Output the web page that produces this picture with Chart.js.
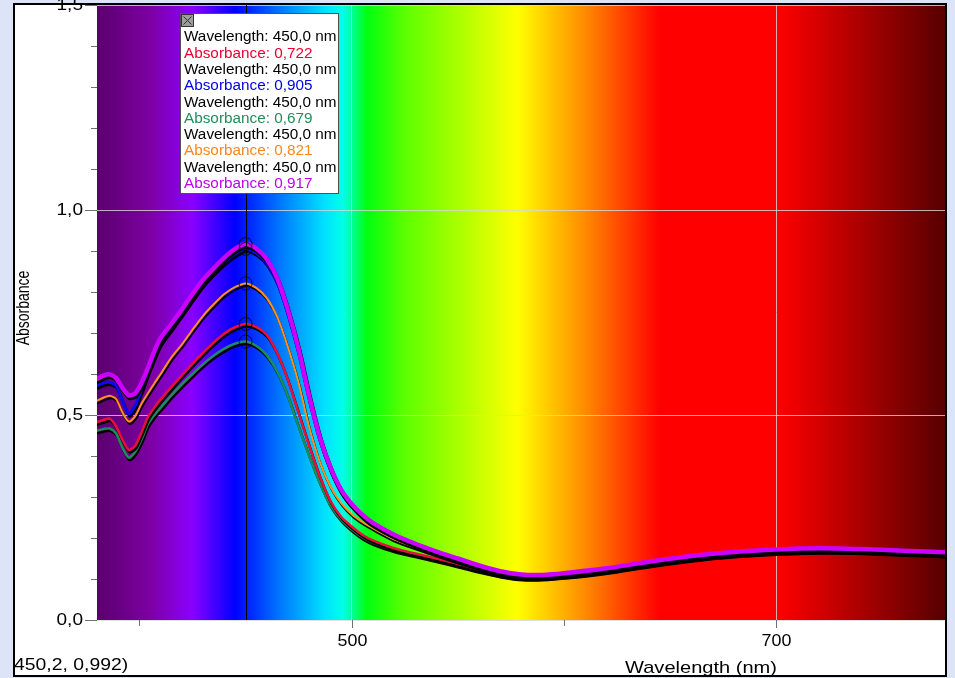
<!DOCTYPE html>
<html>
<head>
<meta charset="utf-8">
<script src="https://cdn.jsdelivr.net/npm/chart.js@4/dist/chart.umd.min.js"></script>
<style>
  html, body { margin: 0; padding: 0; background: #dee4f7; }
  canvas { display: block; }
</style>
</head>
<body>
<canvas id="c" width="955" height="678"></canvas>
<script>
// ---------------- DATA ----------------
const wavelengths = [380, 383, 386, 389, 392, 395, 398, 401, 404, 407, 410, 415, 420, 425, 430, 435, 440, 445, 450, 455, 460, 465, 470, 475, 480, 485, 490, 495, 500, 505, 510, 520, 530, 540, 550, 560, 570, 580, 590, 600, 620, 640, 660, 680, 700, 720, 740, 760, 780];

const absRed = [0.483, 0.488, 0.491, 0.472, 0.440, 0.415, 0.425, 0.458, 0.495, 0.518, 0.538, 0.568, 0.597, 0.625, 0.652, 0.677, 0.699, 0.714, 0.722, 0.715, 0.695, 0.650, 0.585, 0.505, 0.425, 0.350, 0.290, 0.252, 0.228, 0.208, 0.194, 0.175, 0.162, 0.150, 0.137, 0.123, 0.111, 0.104, 0.104, 0.108, 0.120, 0.136, 0.150, 0.160, 0.166, 0.169, 0.168, 0.164, 0.160];
const absBlue = [0.572, 0.578, 0.580, 0.571, 0.535, 0.503, 0.523, 0.562, 0.605, 0.643, 0.676, 0.712, 0.748, 0.785, 0.820, 0.848, 0.873, 0.893, 0.905, 0.895, 0.870, 0.822, 0.745, 0.650, 0.537, 0.438, 0.366, 0.313, 0.279, 0.253, 0.233, 0.205, 0.183, 0.165, 0.148, 0.131, 0.117, 0.109, 0.108, 0.112, 0.124, 0.140, 0.154, 0.164, 0.170, 0.173, 0.171, 0.167, 0.163];
const absGreen = [0.462, 0.466, 0.467, 0.455, 0.420, 0.396, 0.410, 0.440, 0.478, 0.500, 0.518, 0.548, 0.575, 0.600, 0.624, 0.645, 0.662, 0.674, 0.679, 0.669, 0.646, 0.605, 0.545, 0.472, 0.400, 0.335, 0.280, 0.245, 0.221, 0.202, 0.189, 0.171, 0.159, 0.147, 0.134, 0.121, 0.110, 0.103, 0.103, 0.107, 0.119, 0.135, 0.149, 0.159, 0.165, 0.168, 0.167, 0.163, 0.159];
const absOrange = [0.535, 0.542, 0.547, 0.539, 0.506, 0.484, 0.497, 0.528, 0.553, 0.577, 0.600, 0.640, 0.672, 0.708, 0.742, 0.770, 0.795, 0.812, 0.821, 0.810, 0.785, 0.738, 0.665, 0.578, 0.470, 0.385, 0.325, 0.285, 0.258, 0.239, 0.224, 0.197, 0.178, 0.160, 0.143, 0.127, 0.114, 0.106, 0.106, 0.110, 0.122, 0.138, 0.152, 0.162, 0.168, 0.171, 0.170, 0.166, 0.162];
const absMagenta = [0.588, 0.596, 0.599, 0.590, 0.566, 0.548, 0.553, 0.578, 0.615, 0.655, 0.688, 0.722, 0.757, 0.795, 0.830, 0.858, 0.884, 0.905, 0.917, 0.906, 0.880, 0.832, 0.755, 0.660, 0.545, 0.445, 0.372, 0.318, 0.283, 0.257, 0.237, 0.208, 0.186, 0.167, 0.150, 0.133, 0.119, 0.111, 0.110, 0.114, 0.126, 0.142, 0.156, 0.166, 0.172, 0.175, 0.173, 0.169, 0.165];

const cursorWavelength = 450;
const xTickValues = [400, 500, 600, 700];
const xLabeledTicks = [500, 700];
const yTickValues = [0, 0.1, 0.2, 0.3, 0.4, 0.5, 0.6, 0.7, 0.8, 0.9, 1.0, 1.1, 1.2, 1.3, 1.4, 1.5];
const yLabeledTicks = [0, 0.5, 1.0, 1.5];
const xTitle = 'Wavelength (nm)';
const yTitle = 'Absorbance';
const statusText = '450,2, 0,992)';

const spectrumNm = [380, 405, 425, 445, 465, 487, 496, 507, 525, 578, 610, 645, 700, 780];
const spectrumColors = ['#5a006c', '#7d00a2', '#8a00ff', '#0000ff', '#0070ff', '#00e0ff', '#00ffe8', '#00ff10', '#5cff00', '#ffff00', '#ff8a00', '#ff0000', '#ff0000', '#560000'];

const seriesList = [
  { values: absRed, line: '#e8103a', text: '#e8002f', width: 2.5, order: 3 },
  { values: absBlue, line: '#0a0af0', text: '#0000e6', width: 3, order: 1 },
  { values: absGreen, line: '#1c8c5c', text: '#1f8f5a', width: 2.5, order: 4 },
  { values: absOrange, line: '#ff9020', text: '#f7871e', width: 2, order: 2 },
  { values: absMagenta, line: '#cc00ff', text: '#c000f0', width: 4.5, order: 0 }
];

// ---------------- HELPERS ----------------
const FONT = '"Liberation Sans", Arial, sans-serif';
function stretchText(ctx, text, x, y, align, sx, size, color) {
  ctx.save();
  ctx.translate(x, y);
  ctx.scale(sx, 1);
  ctx.font = size + 'px ' + FONT;
  ctx.textAlign = align;
  ctx.textBaseline = 'middle';
  ctx.fillStyle = color;
  ctx.fillText(text, 0, 0);
  ctx.restore();
}
const near = (a, list) => list.some(v => Math.abs(v - a) < 1e-6);
const fmt = (v, d) => v.toFixed(d).replace('.', ',');

// ---------------- PLUGINS ----------------
const backgroundPlugin = {
  id: 'bg',
  beforeDraw(chart) {
    const ctx = chart.ctx;
    const { left, right, top, bottom } = chart.chartArea;
    const xs = chart.scales.x;
    ctx.save();
    ctx.fillStyle = '#dee4f7';
    ctx.fillRect(0, 0, chart.width, chart.height);
    ctx.fillStyle = '#ffffff';
    ctx.fillRect(14, 3, 933, 674);
    const g = ctx.createLinearGradient(left, 0, right, 0);
    spectrumNm.forEach((nm, i) => {
      const p = (xs.getPixelForValue(nm) - left) / (right - left);
      g.addColorStop(Math.min(1, Math.max(0, p)), spectrumColors[i]);
    });
    ctx.fillStyle = g;
    ctx.fillRect(left, top, right - left, bottom - top);
    ctx.restore();
  }
};

const shadowPlugin = {
  id: 'shadow',
  beforeDatasetDraw(chart) {
    const ctx = chart.ctx;
    ctx.save();
    ctx.shadowColor = 'rgba(0,0,0,0.95)';
    ctx.shadowOffsetX = 1;
    ctx.shadowOffsetY = 2.5;
    ctx.shadowBlur = 0;
  },
  afterDatasetDraw(chart) {
    chart.ctx.restore();
  }
};

const overlayPlugin = {
  id: 'overlay',
  afterDraw(chart) {
    const ctx = chart.ctx;
    const { left, right, top, bottom } = chart.chartArea;
    const xs = chart.scales.x, ys = chart.scales.y;
    ctx.save();

    // cursor line
    const cx = Math.round(xs.getPixelForValue(cursorWavelength)) + 0.5;
    ctx.strokeStyle = '#000';
    ctx.lineWidth = 1;
    ctx.beginPath();
    ctx.moveTo(cx, top);
    ctx.lineTo(cx, bottom);
    ctx.stroke();

    // circles at cursor
    const idx = wavelengths.indexOf(cursorWavelength);
    chart.data.datasets.forEach((ds, i) => {
      const pt = chart.getDatasetMeta(i).data[idx];
      ctx.beginPath();
      ctx.arc(pt.x, pt.y, 6.5, 0, Math.PI * 2);
      ctx.strokeStyle = 'rgba(0,0,0,0.75)';
      ctx.lineWidth = 1;
      ctx.stroke();
    });

    // y ticks
    ctx.strokeStyle = '#707070';
    ctx.lineWidth = 1;
    ys.ticks.forEach(t => {
      const py = Math.round(ys.getPixelForValue(t.value)) + 0.5;
      const major = near(t.value, yLabeledTicks);
      ctx.beginPath();
      ctx.moveTo(left - (major ? 12 : 6), py);
      ctx.lineTo(left, py);
      ctx.stroke();
      if (major) stretchText(ctx, fmt(t.value, 1), left - 14, py, 'right', 1.12, 17, '#000');
    });
    // x ticks
    xs.ticks.forEach(t => {
      const px = Math.round(xs.getPixelForValue(t.value)) + 0.5;
      const major = near(t.value, xLabeledTicks);
      ctx.beginPath();
      ctx.moveTo(px, bottom);
      ctx.lineTo(px, bottom + (major ? 8 : 6));
      ctx.stroke();
      if (major) stretchText(ctx, String(t.value), px, bottom + 21, 'center', 1.05, 17, '#000');
    });

    // axis titles
    stretchText(ctx, xTitle, 701, 668, 'center', 1.18, 17, '#000');
    ctx.save();
    ctx.translate(24, 308);
    ctx.rotate(-Math.PI / 2);
    ctx.scale(1, 1.3);
    ctx.font = '14px ' + FONT;
    ctx.textAlign = 'center';
    ctx.textBaseline = 'middle';
    ctx.fillStyle = '#000';
    ctx.fillText(yTitle, 0, 0);
    ctx.restore();

    // status text
    stretchText(ctx, statusText, 14, 665, 'left', 1.14, 17, '#000');

    // legend box
    ctx.fillStyle = '#ffffff';
    ctx.fillRect(180, 13, 159, 181);
    ctx.strokeStyle = '#505050';
    ctx.lineWidth = 1;
    ctx.strokeRect(180.5, 13.5, 158, 180);
    ctx.fillStyle = '#9c9c9c';
    ctx.fillRect(181, 14, 13, 13);
    ctx.strokeStyle = '#333';
    ctx.strokeRect(181.5, 14.5, 12, 12);
    ctx.beginPath();
    ctx.moveTo(183.5, 16.5); ctx.lineTo(191.5, 24.5);
    ctx.moveTo(191.5, 16.5); ctx.lineTo(183.5, 24.5);
    ctx.stroke();
    let ly = 37.5;
    seriesList.forEach(s => {
      stretchText(ctx, 'Wavelength: ' + fmt(cursorWavelength, 1) + ' nm', 184, ly, 'left', 1.093, 14, '#000');
      ly += 16.3;
      stretchText(ctx, 'Absorbance: ' + fmt(s.values[idx], 3), 184, ly, 'left', 1.093, 14, s.text);
      ly += 16.3;
    });

    // outer frame
    ctx.strokeStyle = '#000';
    ctx.lineWidth = 2;
    ctx.strokeRect(14, 4, 932, 672);
    ctx.restore();
  }
};

// ---------------- CHART ----------------
const gridColor = (list) => (c) => (c.tick && near(c.tick.value, list)) ? 'rgba(215,215,215,0.8)' : 'rgba(0,0,0,0)';

new Chart(document.getElementById('c'), {
  type: 'line',
  data: {
    labels: wavelengths,
    datasets: seriesList.map(s => ({
      data: wavelengths.map((w, i) => ({ x: w, y: s.values[i] })),
      borderColor: s.line,
      borderWidth: s.width,
      pointRadius: 0,
      tension: 0.25,
      fill: false,
      order: s.order,
      borderJoinStyle: 'round',
      borderCapStyle: 'round'
    }))
  },
  options: {
    responsive: false,
    animation: false,
    devicePixelRatio: 1,
    layout: { padding: { left: 0, right: 9, top: 5, bottom: 0 } },
    plugins: { legend: { display: false }, tooltip: { enabled: false } },
    scales: {
      x: {
        type: 'linear', min: 380, max: 780,
        afterBuildTicks: (s) => { s.ticks = xTickValues.map(v => ({ value: v })); },
        afterFit: (s) => { s.height = 58; },
        ticks: { display: false },
        grid: { color: gridColor(xLabeledTicks), drawTicks: false },
        border: { display: false }
      },
      y: {
        type: 'linear', min: 0, max: 1.5,
        afterBuildTicks: (s) => { s.ticks = yTickValues.map(v => ({ value: v })); },
        afterFit: (s) => { s.width = 97; },
        ticks: { display: false },
        grid: { color: gridColor(yLabeledTicks), drawTicks: false },
        border: { display: false }
      }
    }
  },
  plugins: [backgroundPlugin, shadowPlugin, overlayPlugin]
});
</script>
</body>
</html>
